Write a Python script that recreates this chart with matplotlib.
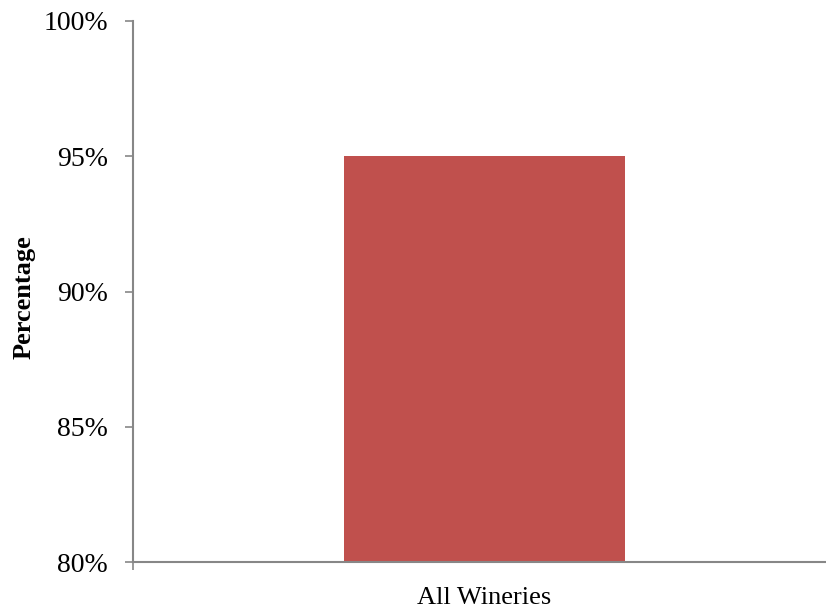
import matplotlib.pyplot as plt
from matplotlib.ticker import FixedLocator, FuncFormatter

categories = ["All Wineries"]
values = [95]
y_ticks = [80, 85, 90, 95, 100]

bar_color = "#C0504D"
axis_color = "#878787"

plt.rcParams["font.family"] = ["Liberation Serif", "DejaVu Serif"]

fig = plt.figure(figsize=(8.26, 6.09), dpi=100)
ax = fig.add_axes([133 / 826, 1 - 562 / 609, 693 / 826, 541 / 609])

ax.bar(range(len(categories)), values, width=0.405, color=bar_color, zorder=2)

ax.set_ylim(80, 100)
ax.set_xlim(-0.507, 0.493)
ax.set_yticks(y_ticks)
ax.yaxis.set_major_formatter(FuncFormatter(lambda v, p: f"{v:.0f}%"))
ax.set_xticks(range(len(categories)))
ax.set_xticklabels(categories)
ax.xaxis.set_minor_locator(FixedLocator([-0.507]))

for side in ["top", "right"]:
    ax.spines[side].set_visible(False)
for side in ["left", "bottom"]:
    ax.spines[side].set_color(axis_color)
    ax.spines[side].set_linewidth(1.5)

ax.tick_params(axis="y", direction="out", length=6, width=1.2, color=axis_color,
               labelsize=20, pad=12)
ax.tick_params(axis="x", which="major", length=0, labelsize=19, pad=18)
ax.tick_params(axis="x", which="minor", direction="out", length=6, width=1.2,
               color=axis_color)

ax.set_ylabel("Percentage", fontsize=19, fontweight="bold")
ax.yaxis.set_label_coords(-0.141, 0.49)

fig.savefig("out.png", dpi=100)
